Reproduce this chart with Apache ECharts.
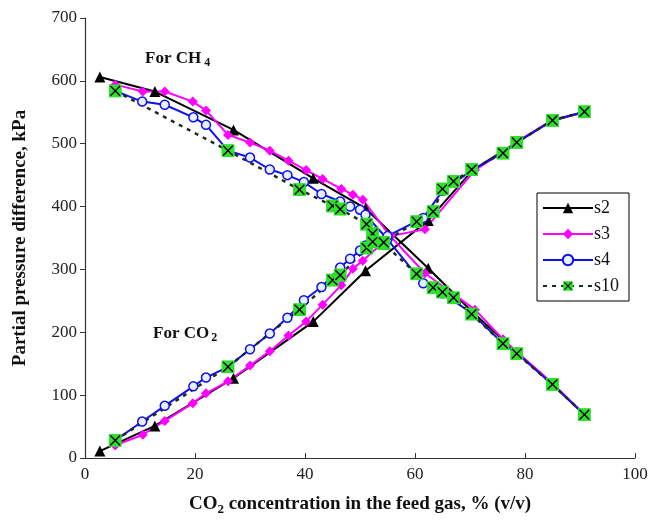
<!DOCTYPE html>
<html>
<head>
<meta charset="utf-8">
<script src="https://cdn.jsdelivr.net/npm/echarts@6/dist/echarts.min.js"></script>
<style>
  html, body { margin: 0; padding: 0; background: #fff; }
  #chart { width: 672px; height: 521px; }
</style>
</head>
<body>
<div id="chart"></div>
<script>
// CO2 concentration in feed gas (%, v/v) and partial pressure differences (kPa)
const s2X   = [2.7, 12.7, 27, 41.5, 51, 62.4, 70.5, 78.5, 85, 90.8];
const s2CH4 = [606, 583, 522, 445, 397, 302, 232, 168, 117, 69];
const s2CO2 = [11, 51, 127, 217, 298, 378, 458, 502, 537, 550];

const s3X   = [5.5, 10.5, 14.5, 19.6, 22, 26, 30, 33.6, 37, 40.2, 43.2, 46.6, 48.7, 50.5, 55.5, 61.8, 70.9, 76, 78.5, 85, 90.8];
const s3CH4 = [594, 583, 583, 567, 553, 514, 502, 489, 473, 458, 444, 428, 419, 411, 353, 294, 236, 189, 169, 119, 69];
const s3CO2 = [20, 37, 59, 87, 103, 122, 147, 170, 195, 217, 244, 275, 301, 314, 353, 364, 458, 487, 503, 538, 550];

const s4X   = [5.5, 10.4, 14.5, 19.7, 22, 26, 30, 33.6, 36.8, 39.8, 43, 46.4, 48.2, 50, 51, 55, 61.5, 65, 70.4, 76, 78.5, 85, 90.8];
const s4CH4 = [584, 567, 562, 542, 530, 489, 478, 459, 450, 439, 420, 408, 400, 395, 387, 348, 278, 262, 230, 182, 167, 117, 69];
const s4CO2 = [28, 58, 83, 114, 128, 145, 173, 198, 223, 251, 272, 303, 317, 330, 338, 353, 382, 425, 458, 486, 502, 537, 551];

const s10X   = [5.5, 26, 39, 45, 46.4, 51.2, 52.3, 54.3, 60.3, 63.3, 65, 67, 70.3, 76, 78.5, 85, 90.8];
const s10CH4 = [584, 489, 427, 401, 396, 372, 357, 341, 293, 271, 264, 255, 229, 182, 166, 117, 69];
const s10CO2 = [28, 145, 236, 283, 291, 334, 344, 343, 376, 392, 428, 440, 459, 485, 502, 537, 551];

const xTicks = [0, 20, 40, 60, 80, 100];
const yTicks = [0, 100, 200, 300, 400, 500, 600, 700];

const pairs = (xs, ys) => xs.map((x, i) => [x, ys[i]]);

// green square with a black cross
const crossSquare = 'image://data:image/svg+xml;charset=utf-8,' + encodeURIComponent(
  "<svg xmlns='http://www.w3.org/2000/svg' width='26' height='26' viewBox='0 0 26 26'>" +
  "<rect x='1' y='1' width='24' height='24' fill='#2fe02f'/>" +
  "<path d='M4 4L22 22M22 4L4 22' stroke='#000' stroke-width='2.6'/></svg>");

const serif = 'Liberation Serif';

const styles = {
  s2:  { symbol: 'triangle', symbolSize: 11, itemStyle: { color: '#000' }, lineStyle: { color: '#000', width: 2 } },
  s3:  { symbol: 'diamond', symbolSize: 10, itemStyle: { color: '#ff00ff' }, lineStyle: { color: '#ff00ff', width: 2 } },
  s4:  { symbol: 'circle', symbolSize: 9, itemStyle: { color: '#e6f0ff', borderColor: '#1010ee', borderWidth: 1.5 }, lineStyle: { color: '#1010ee', width: 2 } },
  s10: { symbol: crossSquare, symbolSize: 14, itemStyle: { color: '#2fe02f' }, lineStyle: { color: '#1c2e1c', width: 2.5, type: [4, 5] } }
};

function makeSeries(name, xs, ys) {
  return Object.assign({
    name: name,
    type: 'line',
    data: pairs(xs, ys),
    showSymbol: true,
    animation: false,
    emphasis: { disabled: true }
  }, JSON.parse(JSON.stringify(styles[name])), { symbol: styles[name].symbol });
}

const series = [
  makeSeries('s2', s2X, s2CH4), makeSeries('s2', s2X, s2CO2),
  makeSeries('s3', s3X, s3CH4), makeSeries('s3', s3X, s3CO2),
  makeSeries('s4', s4X, s4CH4), makeSeries('s4', s4X, s4CO2),
  makeSeries('s10', s10X, s10CH4), makeSeries('s10', s10X, s10CO2)
];

const chart = echarts.init(document.getElementById('chart'));
chart.setOption({
  backgroundColor: '#fff',
  animation: false,
  grid: { left: 85, right: 37, top: 18, bottom: 55 },
  xAxis: {
    type: 'value', min: xTicks[0], max: xTicks[xTicks.length - 1], interval: 20,
    axisLine: { lineStyle: { color: '#333', width: 1.2 } },
    axisTick: { inside: true, length: 5, lineStyle: { color: '#333' } },
    splitLine: { show: false },
    axisLabel: { color: '#222', fontFamily: serif, fontSize: 17, margin: 8 },
    name: '{b|CO}{sub|2}{b| concentration in the feed gas, % (v/v)}',
    nameLocation: 'middle', nameGap: 35,
    nameTextStyle: {
      rich: {
        b: { fontFamily: serif, fontWeight: 'bold', fontSize: 19, color: '#111' },
        sub: { fontFamily: serif, fontWeight: 'bold', fontSize: 13, color: '#111', padding: [10, 0, 0, 0] }
      }
    }
  },
  yAxis: {
    type: 'value', min: yTicks[0], max: yTicks[yTicks.length - 1], interval: 100,
    axisLine: { show: true, lineStyle: { color: '#333', width: 1.2 } },
    axisTick: { show: true, length: 5, lineStyle: { color: '#333' } },
    splitLine: { show: false },
    axisLabel: { color: '#222', fontFamily: serif, fontSize: 17, margin: 8 },
    name: 'Partial pressure difference, kPa',
    nameLocation: 'middle', nameGap: 55,
    nameTextStyle: { fontFamily: serif, fontWeight: 'bold', fontSize: 19, color: '#111' }
  },
  legend: {
    data: ['s2', 's3', 's4', 's10'],
    orient: 'vertical', left: 537, top: 193,
    itemWidth: 50, itemHeight: 13, itemGap: 8,
    padding: [6, 10, 6, 5],
    backgroundColor: '#fff', borderColor: '#000', borderWidth: 1, borderRadius: 0,
    textStyle: { fontFamily: serif, fontSize: 18, color: '#111', padding: [0, 0, 0, -4] }
  },
  graphic: [
    { type: 'text', left: 145, top: 50,
      style: { text: '{b|For CH}{sub|4}', rich: {
        b: { fontFamily: serif, fontWeight: 'bold', fontSize: 17, fill: '#111' },
        sub: { fontFamily: serif, fontWeight: 'bold', fontSize: 12, fill: '#111', padding: [8, 0, 0, 3] } } } },
    { type: 'text', left: 153, top: 325,
      style: { text: '{b|For CO}{sub|2}', rich: {
        b: { fontFamily: serif, fontWeight: 'bold', fontSize: 17, fill: '#111' },
        sub: { fontFamily: serif, fontWeight: 'bold', fontSize: 12, fill: '#111', padding: [8, 0, 0, 2] } } } }
  ],
  series: series
});
</script>
</body>
</html>
